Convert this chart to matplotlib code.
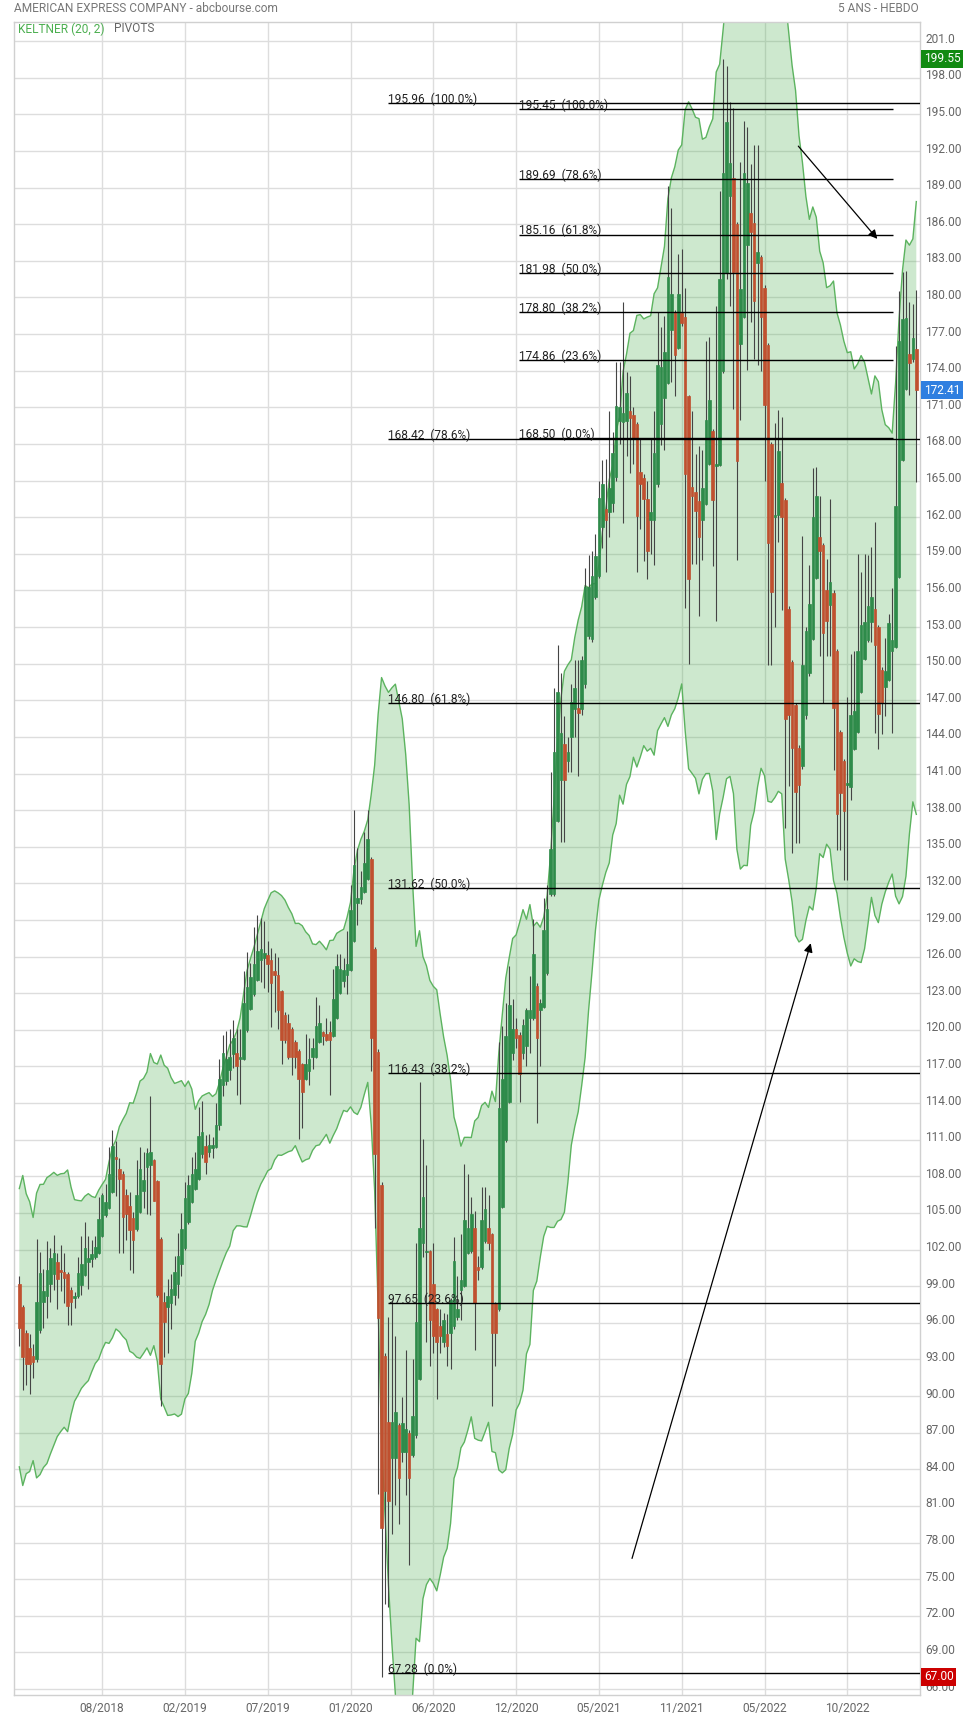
import matplotlib
matplotlib.use('Agg')
import matplotlib.pyplot as plt
import matplotlib.transforms as mtransforms
import numpy as np
import pandas as pd

plt.rcParams['font.family'] = ['Roboto', 'DejaVu Sans']

# weekly candles (index 0 = first week shown)
opens = [
    99.2, 97.3, 95.2, 93.9, 93.3, 93.0, 95.4, 97.7, 98.2, 99.2,
    100.0, 101.0, 100.3, 100.2, 100.0, 98.7, 98.0, 98.2, 99.1, 99.9,
    101.0, 101.2, 101.4, 101.7, 103.1, 104.8, 105.4, 106.7, 109.6, 108.6,
    108.2, 106.5, 105.6, 104.6, 103.7, 105.1, 106.8, 108.8, 108.9, 109.3,
    107.6, 102.9, 97.7, 97.3, 97.6, 98.3, 99.2, 100.8, 102.1, 104.3,
    105.9, 107.0, 107.8, 109.8, 110.5, 110.0, 110.3, 110.4, 112.2, 115.5,
    115.8, 116.7, 118.0, 118.1, 117.6, 117.6, 120.0, 121.7, 122.9, 124.1,
    125.7, 125.9, 126.1, 125.7, 124.8, 124.5, 123.2, 121.2, 120.6, 120.1,
    119.0, 118.3, 117.2, 116.0, 116.6, 117.8, 117.8, 119.0, 119.8, 119.7,
    119.8, 119.5, 121.0, 123.0, 124.0, 124.5, 124.9, 127.3, 130.4, 130.7,
    131.3, 132.4, 134.0, 126.6, 118.2, 107.3, 93.3, 87.9, 84.9, 84.9,
    87.6, 85.4, 85.4, 87.0, 85.2, 86.8, 91.4, 102.5, 101.8, 101.9,
    99.2, 97.1, 95.7, 94.4, 95.1, 95.2, 95.7, 96.5, 98.7, 99.0,
    101.7, 101.9, 103.8, 100.6, 100.6, 102.7, 103.8, 103.3, 97.6, 97.1,
    105.5, 111.0, 114.1, 118.1, 120.1, 119.6, 118.1, 118.7, 121.0, 121.0,
    123.6, 121.6, 121.9, 124.7, 131.1, 131.1, 137.1, 140.5, 143.4, 142.0,
    144.0, 146.3, 146.4, 146.3, 148.3, 152.3, 152.0, 155.5, 157.2, 161.2,
    162.7, 162.4, 163.2, 165.3, 169.9, 169.8, 169.9, 170.7, 170.4, 169.6,
    165.7, 165.2, 163.5, 161.8, 161.8, 164.7, 169.6, 171.8, 173.0, 177.3,
    178.8, 175.9, 178.7, 178.4, 171.9, 164.5, 164.1, 163.3, 161.8, 163.1,
    166.4, 169.1, 166.2, 166.3, 174.0, 182.0, 188.3, 189.8, 186.0, 176.2,
    178.4, 184.3, 186.9, 186.1, 182.8, 183.3, 180.8, 176.1, 168.0, 162.0,
    162.2, 164.8, 163.4, 154.5, 150.1, 146.6, 143.1, 141.6, 145.8, 149.2,
    152.0, 157.0, 160.4, 159.7, 156.0, 154.8, 155.8, 151.0, 144.4, 142.0,
    140.1, 139.9, 143.0, 144.4, 147.7, 150.4, 151.9, 153.4, 154.5, 153.0,
    149.5, 148.1, 148.7, 151.0, 151.4, 157.1, 166.7, 172.5, 175.4, 175.0,
    175.8,
]
highs = [
    99.8, 97.5, 95.4, 95.1, 94.3, 102.9, 101.8, 100.4, 102.7, 102.1,
    103.2, 101.7, 102.4, 101.7, 100.2, 98.9, 98.5, 101.4, 103.1, 104.3,
    103.1, 102.8, 103.1, 106.3, 106.6, 107.4, 110.4, 111.8, 110.9, 109.5,
    108.4, 107.0, 106.7, 105.1, 109.3, 110.4, 110.0, 110.3, 114.6, 109.4,
    107.7, 103.0, 98.5, 99.6, 100.0, 101.5, 103.4, 105.0, 107.5, 108.1,
    109.6, 110.0, 113.7, 114.2, 111.4, 111.5, 111.2, 114.0, 117.6, 119.6,
    119.9, 120.1, 120.8, 120.1, 120.1, 124.8, 126.4, 125.5, 128.4, 129.4,
    129.2, 128.9, 127.3, 126.7, 126.3, 126.0, 123.3, 121.5, 121.3, 120.2,
    119.2, 118.4, 117.3, 119.7, 119.3, 119.3, 122.7, 122.0, 119.9, 121.0,
    120.7, 125.0, 126.2, 126.2, 125.9, 128.1, 131.9, 138.0, 134.9, 133.0,
    136.2, 138.0, 134.2, 126.8, 118.4, 107.5, 93.5, 96.5, 97.9, 94.9,
    87.8, 89.9, 93.8, 87.2, 93.0, 102.5, 115.7, 111.1, 108.9, 102.0,
    102.5, 97.2, 97.1, 96.8, 96.7, 98.0, 103.0, 99.8, 103.3, 109.0,
    108.2, 106.3, 105.2, 101.5, 107.1, 107.1, 106.5, 103.4, 97.7, 119.0,
    120.3, 122.2, 125.2, 122.5, 121.0, 119.8, 120.9, 121.8, 124.4, 129.1,
    123.8, 122.5, 130.8, 131.9, 141.1, 148.0, 151.5, 149.2, 145.7, 144.0,
    148.3, 150.3, 150.3, 150.6, 157.8, 158.9, 159.2, 160.6, 165.0, 166.7,
    166.8, 170.7, 169.0, 174.7, 174.7, 179.6, 173.9, 173.6, 171.0, 169.8,
    168.4, 165.5, 165.0, 168.4, 170.7, 178.8, 177.6, 178.5, 189.1, 187.3,
    179.0, 183.6, 184.0, 180.8, 172.0, 170.7, 167.2, 167.8, 167.5, 176.4,
    176.8, 169.2, 179.3, 188.7, 199.55, 199.0, 196.0, 195.5, 186.2, 191.1,
    194.5, 194.0, 190.9, 192.5, 192.5, 183.5, 181.0, 176.3, 168.2, 169.7,
    170.8, 170.2, 163.6, 154.7, 150.3, 146.8, 143.3, 160.5, 153.0, 158.1,
    166.0, 166.1, 163.7, 159.9, 158.6, 163.5, 156.0, 151.2, 144.6, 142.2,
    147.3, 150.8, 151.0, 159.0, 157.5, 159.0, 158.9, 159.6, 161.6, 153.2,
    149.7, 152.1, 154.1, 156.2, 176.0, 180.5, 182.1, 182.2, 179.6, 179.5,
    180.6,
]
lows = [
    94.1, 90.5, 90.9, 90.2, 91.5, 92.8, 95.2, 95.6, 96.4, 97.7,
    98.7, 97.1, 98.6, 97.6, 95.8, 95.8, 97.2, 98.0, 98.3, 99.8,
    98.8, 100.6, 101.2, 101.6, 103.0, 104.7, 105.3, 106.6, 106.4, 101.7,
    101.7, 102.8, 100.3, 100.1, 103.5, 105.0, 105.4, 104.9, 104.8, 106.0,
    98.1, 89.2, 93.2, 93.5, 95.5, 97.5, 98.0, 99.8, 102.0, 104.1,
    105.8, 106.9, 107.7, 109.5, 108.2, 109.6, 109.5, 110.3, 111.8, 114.6,
    115.5, 115.9, 116.9, 114.7, 113.9, 117.5, 119.8, 121.6, 122.8, 124.0,
    123.9, 123.4, 123.1, 120.2, 121.5, 120.1, 117.2, 118.9, 117.6, 116.3,
    116.9, 111.1, 112.0, 115.9, 115.5, 116.8, 117.7, 118.9, 118.8, 119.1,
    114.7, 119.4, 120.9, 122.9, 123.5, 122.9, 124.8, 127.2, 128.6, 130.3,
    131.2, 132.3, 116.6, 103.8, 82.0, 67.0, 73.0, 72.7, 78.7, 81.1,
    79.5, 84.6, 81.9, 76.2, 85.0, 86.6, 91.3, 101.4, 94.4, 92.5,
    93.5, 89.8, 93.5, 94.0, 92.5, 92.2, 95.5, 96.2, 96.2, 98.9,
    101.6, 101.7, 93.8, 99.5, 100.4, 102.5, 102.0, 89.2, 92.5, 97.0,
    105.4, 110.8, 114.0, 117.5, 118.5, 114.1, 117.6, 117.0, 118.1, 120.8,
    112.4, 117.0, 121.8, 124.5, 131.0, 131.0, 137.0, 135.4, 135.4, 141.1,
    141.1, 144.0, 140.8, 145.8, 148.0, 152.0, 151.8, 155.3, 157.0, 159.5,
    157.5, 160.4, 162.4, 165.0, 168.0, 161.5, 167.0, 165.6, 166.4, 157.5,
    161.0, 158.4, 156.9, 159.0, 158.1, 164.5, 167.9, 167.5, 172.9, 173.1,
    171.9, 175.8, 177.7, 154.6, 150.0, 158.2, 158.2, 153.9, 158.5, 163.0,
    166.3, 158.0, 153.5, 166.2, 173.8, 181.5, 179.3, 170.9, 158.5, 170.0,
    178.3, 174.1, 178.0, 175.0, 174.5, 174.0, 165.0, 149.9, 149.9, 153.0,
    160.0, 154.4, 136.5, 140.0, 134.5, 135.3, 135.3, 141.4, 145.5, 149.0,
    151.9, 156.9, 150.6, 146.8, 150.6, 150.6, 141.3, 134.7, 134.7, 132.3,
    132.3, 138.8, 142.9, 144.3, 147.6, 150.3, 151.8, 151.8, 144.3, 143.0,
    144.2, 145.7, 148.6, 144.3, 151.3, 157.0, 166.6, 172.4, 172.0, 174.7,
    164.9,
]
closes = [
    95.6, 93.2, 92.6, 92.6, 92.8, 97.7, 100.1, 98.6, 100.3, 101.3,
    101.7, 99.6, 100.2, 99.7, 97.4, 97.7, 98.2, 100.1, 100.8, 102.1,
    101.3, 101.6, 102.2, 104.5, 106.5, 105.9, 108.2, 110.5, 109.4, 107.8,
    104.7, 104.9, 103.6, 102.8, 106.5, 108.6, 107.7, 109.9, 110.0, 106.0,
    98.3, 92.6, 96.1, 98.2, 98.8, 100.2, 101.5, 103.7, 106.2, 107.3,
    108.2, 108.6, 111.3, 111.6, 109.2, 110.6, 110.6, 112.2, 116.0, 118.1,
    117.6, 117.8, 119.3, 117.0, 117.8, 122.2, 123.5, 124.3, 125.4, 126.5,
    126.6, 126.3, 125.4, 123.8, 124.5, 121.6, 119.2, 119.2, 117.8, 117.8,
    117.8, 116.0, 114.9, 117.2, 117.6, 118.5, 120.3, 120.6, 119.5, 119.2,
    119.2, 122.5, 125.2, 125.0, 124.9, 125.4, 129.8, 133.5, 130.8, 131.7,
    133.7, 135.6, 119.3, 109.8, 96.4, 79.2, 82.2, 81.4, 87.9, 88.7,
    83.3, 87.8, 87.3, 83.3, 88.4, 96.1, 103.8, 106.3, 101.9, 96.2,
    94.9, 94.4, 94.9, 96.2, 94.1, 97.9, 101.1, 97.1, 99.5, 104.4,
    103.8, 104.9, 97.6, 100.3, 104.4, 105.3, 102.5, 95.2, 95.2, 113.6,
    116.0, 119.5, 122.0, 120.1, 119.3, 116.4, 120.4, 121.6, 121.6, 126.2,
    119.3, 122.2, 128.2, 129.9, 134.8, 142.8, 147.7, 144.3, 140.5, 142.8,
    146.9, 148.0, 146.0, 150.3, 156.3, 156.3, 157.2, 158.8, 163.6, 164.7,
    161.8, 164.4, 167.3, 171.1, 171.0, 170.5, 172.2, 170.1, 168.4, 162.1,
    164.7, 163.5, 159.2, 162.4, 167.3, 174.5, 174.3, 175.5, 181.7, 180.3,
    175.3, 180.3, 177.9, 165.5, 156.9, 163.7, 162.5, 160.4, 164.4, 170.0,
    171.6, 163.4, 166.4, 181.5, 190.2, 194.4, 191.0, 182.1, 166.6, 180.7,
    190.2, 189.4, 185.4, 179.7, 183.7, 178.4, 171.2, 159.9, 155.9, 162.2,
    167.4, 162.0, 145.5, 145.8, 143.1, 139.5, 140.1, 149.9, 152.7, 154.9,
    162.0, 163.7, 159.2, 152.5, 153.5, 156.7, 146.4, 137.7, 139.4, 137.9,
    140.2, 145.8, 146.1, 151.0, 153.2, 153.4, 154.7, 155.5, 151.5, 145.9,
    146.8, 149.4, 153.3, 151.9, 162.9, 176.4, 178.2, 178.3, 174.6, 176.7,
    172.41,
]

# x axis labels (every 24 weeks)
date_pos = [24, 48, 72, 96, 120, 144, 168, 192, 216, 240]
date_labels = ['08/2018', '02/2019', '07/2019', '01/2020', '06/2020',
               '12/2020', '05/2021', '11/2021', '05/2022', '10/2022']

# fibonacci retracements
fib1_levels = [67.28, 97.65, 116.43, 131.62, 146.80, 168.42, 195.96]
fib1_pcts = ['0.0%', '23.6%', '38.2%', '50.0%', '61.8%', '78.6%', '100.0%']
fib2_levels = [168.50, 174.86, 178.80, 181.98, 185.16, 189.69, 195.45]
fib2_pcts = ['0.0%', '23.6%', '38.2%', '50.0%', '61.8%', '78.6%', '100.0%']
fib1_start, fib2_start, fib2_end = 106.9, 144.9, 253.3

# trend arrows: (x0, y0, x1, y1) in week index / price
arrows = [(177.6, 76.7, 229.4, 127.1), (225.8, 192.4, 248.7, 184.8)]

# keltner (20, 2): ema20 of close +/- 2 x average true range
df = pd.DataFrame({'o': opens, 'h': highs, 'l': lows, 'c': closes})
prev_c = df['c'].shift(1)
tr = pd.concat([df['h'] - df['l'], (df['h'] - prev_c).abs(),
                (df['l'] - prev_c).abs()], axis=1).max(axis=1)
mid = df['c'].ewm(span=20, adjust=False).mean()
atr = tr.rolling(10, min_periods=1).mean()
upper = mid + 2 * atr
lower = mid - 2 * atr

x = np.arange(len(closes))
o = np.array(opens)
c = np.array(closes)
up = c >= o

GREEN = '#2e8b4a'
RED = '#c0502f'
GRID = '#dddddd'
TXT = '#666666'

fig = plt.figure(figsize=(9.69, 17.18), dpi=100)
ax = fig.add_axes([14 / 969, 1 - 1695 / 1718, 906 / 969, 1673 / 1718])
ax.set_xlim(-1.54, 261.07)
ax.set_ylim(65.51, 202.57)

yt = np.arange(66, 202, 3)
ax.set_yticks(yt)
ax.set_yticklabels([f'{v:.2f}' if v < 201 else f'{v:.1f}' for v in yt])
ax.set_xticks(date_pos)
ax.set_xticklabels(date_labels)
ax.yaxis.tick_right()
ax.tick_params(axis='y', length=0, pad=4, labelsize=8.6, labelcolor=TXT)
ax.tick_params(axis='x', length=0, pad=5, labelsize=8.6, labelcolor=TXT)
ax.grid(True, color=GRID, lw=1)
ax.set_axisbelow(True)
for s in ax.spines.values():
    s.set_color('#d0d0d0')
    s.set_linewidth(1)

off = mtransforms.ScaledTranslation(0, 3.5 / 100, fig.dpi_scale_trans)
for lab in ax.get_yticklabels():
    lab.set_transform(lab.get_transform() + off)

# band
ax.fill_between(x, lower, upper, color='#4caf50', alpha=0.28, lw=0, zorder=1)
ax.plot(x, upper, color='#5cb35f', lw=1, zorder=2)
ax.plot(x, lower, color='#5cb35f', lw=1, zorder=2)

# candles
ax.vlines(x, lows, highs, color='#444444', lw=0.8, zorder=3)
body_lo = np.minimum(o, c)
body_h = np.abs(c - o)
cols = np.where(up, GREEN, RED)
ax.bar(x, body_h, bottom=body_lo, width=0.75, color=cols, edgecolor=cols,
       lw=0.5, zorder=4)

# fibonacci lines and labels
xr = ax.get_xlim()[1]
ax.hlines(fib1_levels, fib1_start, xr, color='black', lw=1.0, zorder=5)
ax.hlines(fib2_levels, fib2_start, fib2_end, color='black', lw=1.0, zorder=5)
for lv, pc in zip(fib1_levels, fib1_pcts):
    ax.text(fib1_start, lv, f'{lv:.2f}  ({pc})', fontsize=8.6, color='#222222',
            va='baseline', ha='left', zorder=6)
for lv, pc in zip(fib2_levels, fib2_pcts):
    ax.text(fib2_start, lv, f'{lv:.2f}  ({pc})', fontsize=8.6, color='#222222',
            va='baseline', ha='left', zorder=6)

for x0, y0, x1, y1 in arrows:
    ax.annotate('', xy=(x1, y1), xytext=(x0, y0),
                arrowprops=dict(arrowstyle='-|>', color='black', lw=0.9,
                                mutation_scale=13, shrinkA=0, shrinkB=0),
                zorder=6)

# price tags on the right axis
tags = [(max(highs), '#128a12'), (closes[-1], '#2f7fe0'), (min(lows), '#cc0000')]
for val, col in tags:
    ax.text(1.0045, val, f'{val:.2f}', transform=ax.get_yaxis_transform(),
            ha='left', va='center', color='white', fontsize=8.6, clip_on=False,
            bbox=dict(boxstyle='square,pad=0.22', fc=col, ec='none'), zorder=10)

# header and legend
fig.text(14 / 969, 1 - 9 / 1718, 'AMERICAN EXPRESS COMPANY - abcbourse.com',
         ha='left', va='center', fontsize=8.6, color='#777777')
fig.text(919 / 969, 1 - 9 / 1718, '5 ANS - HEBDO',
         ha='right', va='center', fontsize=8.6, color='#777777')
fig.text(18 / 969, 1 - 29 / 1718, 'KELTNER (20, 2)',
         ha='left', va='center', fontsize=8.6, color='#4caf50')
fig.text(114 / 969, 1 - 29 / 1718, 'PIVOTS',
         ha='left', va='center', fontsize=8.6, color='#666666')

fig.savefig('out.png', dpi=100)
